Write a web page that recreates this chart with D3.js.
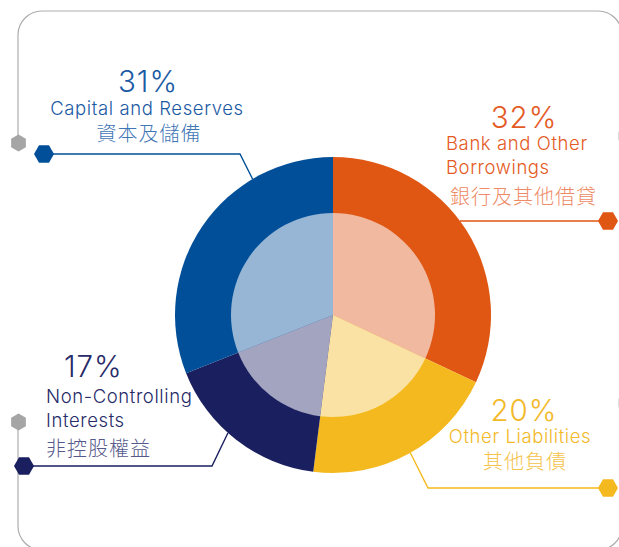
<!DOCTYPE html>
<html>
<head>
<meta charset="utf-8">
<script src="https://cdn.jsdelivr.net/npm/d3@7"></script>
<style>
  html, body { margin: 0; padding: 0; background: #fff; }
  svg { display: block; }
</style>
</head>
<body>
<div id="chart"></div>
<script>
// data
var categories = ["Bank and Other Borrowings", "Other Liabilities", "Non-Controlling Interests", "Capital and Reserves"];
var labelLines = [["Bank and Other", "Borrowings"], ["Other Liabilities"], ["Non-Controlling", "Interests"], ["Capital and Reserves"]];
var labelsZh = ["銀行及其他借貸", "其他負債", "非控股權益", "資本及儲備"];
var shares = [32, 20, 17, 31];

var outerColors = ["#e05613", "#f4b91e", "#1a1f60", "#004f98"];
var innerColors = ["#f1b9a0", "#f9e2a3", "#a3a4c0", "#97b6d5"];
var textColors = ["#e45a24", "#f3b928", "#272b68", "#1c5aa4"];
var zhColors = ["#ee8a66", "#f5c24a", "#55588a", "#3f76b6"];

var svgWidth = 619;
var svgHeight = 547;
var cx = 333, cy = 315;
var outerR = 158, innerR = 102;

var svg = d3.select("#chart")
  .append("svg")
  .attr("width", svgWidth)
  .attr("height", svgHeight);

// frame
svg.append("rect")
  .attr("x", 18).attr("y", 11)
  .attr("width", 604).attr("height", 539)
  .attr("rx", 24).attr("ry", 24)
  .attr("fill", "none")
  .attr("stroke", "#adadad")
  .attr("stroke-width", 1.2);

// cover the frame where it is broken between the grey hexagons
svg.append("rect").attr("x", 10).attr("y", 150).attr("width", 16).attr("height", 264).attr("fill", "#fff");
svg.append("rect").attr("x", 614).attr("y", 30).attr("width", 16).attr("height", 500).attr("fill", "#fff");

function hexPath(r, pointyTop) {
  var pts = d3.range(6).map(function(i) {
    var a = Math.PI / 3 * i + (pointyTop ? Math.PI / 6 : 0);
    return [r * Math.cos(a), r * Math.sin(a)];
  });
  return "M" + pts.join("L") + "Z";
}

// grey hexagons on the frame
var greyHex = [[18.5, 143], [18.5, 422], [626, 136], [626, 403]];
svg.selectAll(".ghex")
  .data(greyHex)
  .enter()
  .append("path")
  .attr("class", "ghex")
  .attr("transform", d => `translate(${d[0]}, ${d[1]})`)
  .attr("d", hexPath(8.5, true))
  .attr("fill", "#a5a5a5");

var pie = d3.pie().sort(null).value(d => d);
var arcs = pie(shares);

var chartGroup = svg.append("g")
  .attr("transform", `translate(${cx}, ${cy})`);

var outerArc = d3.arc().innerRadius(0).outerRadius(outerR);
var innerArc = d3.arc().innerRadius(0).outerRadius(innerR);

chartGroup.selectAll(".outer")
  .data(arcs)
  .enter()
  .append("path")
  .attr("class", "outer")
  .attr("d", outerArc)
  .attr("fill", (d, i) => outerColors[i]);

chartGroup.selectAll(".inner")
  .data(arcs)
  .enter()
  .append("path")
  .attr("class", "inner")
  .attr("d", innerArc)
  .attr("fill", (d, i) => innerColors[i]);

// leader lines: angle where they touch the pie, elbow, hexagon
var leaderAngles = [53.5, 150.7, 221.7, 329.4];
var elbows = [null, [428, 488], [212, 466], [240, 154]];
var hexes = [[608, 221], [608, 488], [24, 466], [44, 154]];

leaderAngles.forEach(function(a, i) {
  var p = d3.pointRadial(a * Math.PI / 180, outerR);
  var pts = [[cx + p[0], cy + p[1]]];
  if (elbows[i]) pts.push(elbows[i]);
  pts.push(hexes[i]);
  svg.append("path")
    .attr("d", d3.line()(pts))
    .attr("fill", "none")
    .attr("stroke", outerColors[i])
    .attr("stroke-width", 1.4);
  svg.append("path")
    .attr("transform", `translate(${hexes[i][0]}, ${hexes[i][1]})`)
    .attr("d", hexPath(10, false))
    .attr("fill", outerColors[i]);
});

// labels
var labelPos = [
  { pct: [524, 128], anchor: "start", x: 446, lines: [150, 174], zh: [450, 204] },
  { pct: [524, 421], anchor: "middle", x: 520, lines: [443], zh: [525, 469] },
  { pct: [64, 377], anchor: "start", x: 46, lines: [403, 427], zh: [46, 456] },
  { pct: [148, 92], anchor: "middle", x: 147, lines: [115], zh: [149, 141] }
];

var enFont = "Inter, 'Liberation Sans', Arial, sans-serif";
var zhFont = "'Noto Sans CJK TC', 'Noto Sans CJK SC', sans-serif";

labelPos.forEach(function(lp, i) {
  var g = svg.append("g");
  g.append("text")
    .attr("x", lp.pct[0]).attr("y", lp.pct[1])
    .attr("text-anchor", i == 2 ? "start" : "middle")
    .style("font-family", enFont)
    .style("font-size", "29.5px")
    .style("font-weight", 300)
    .style("letter-spacing", "1px")
    .attr("fill", textColors[i])
    .text(shares[i] + "%");
  labelLines[i].forEach(function(line, j) {
    g.append("text")
      .attr("x", lp.x).attr("y", lp.lines[j])
      .attr("text-anchor", lp.anchor)
      .style("font-family", enFont)
      .style("font-size", "18.5px")
      .style("font-weight", 300)
      .style("letter-spacing", "0.6px")
      .attr("fill", textColors[i])
      .text(line);
  });
  g.append("text")
    .attr("x", lp.zh[0]).attr("y", lp.zh[1])
    .attr("text-anchor", lp.anchor)
    .style("font-family", zhFont)
    .style("font-size", "20px")
    .style("font-weight", 300)
    .style("letter-spacing", "1px")
    .attr("fill", zhColors[i])
    .text(labelsZh[i]);
});
</script>
</body>
</html>
